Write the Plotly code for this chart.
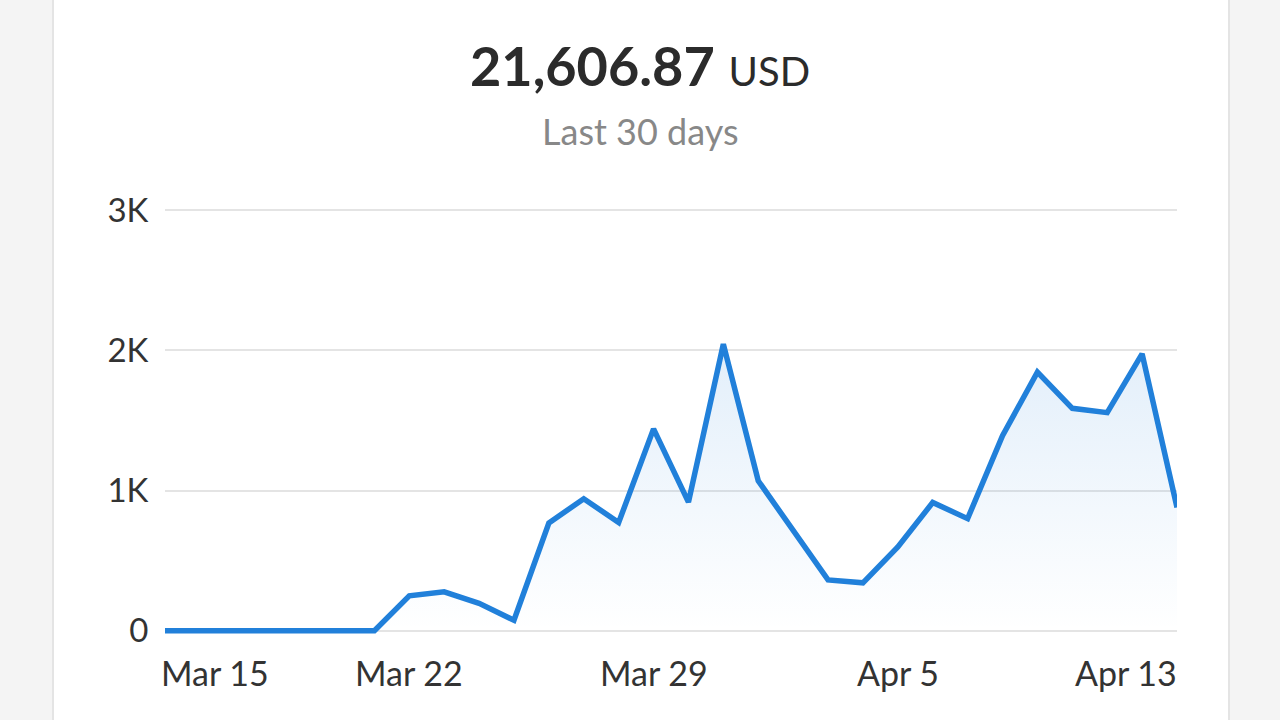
import plotly.graph_objects as go
import pandas as pd

# ---- data ----
dates = pd.date_range("2024-03-15", periods=30, freq="D")
values = [0, 0, 0, 0, 0, 0, 0,
          249, 278, 196, 75, 769, 942, 772, 1440, 918, 2045,
          1070, 719, 363, 342, 598, 915, 800, 1392, 1845, 1587, 1556, 1975, 880]
total_text = "21,606.87"
currency = "USD"
period_text = "Last 30 days"
y_tickvals = [0, 1000, 2000, 3000]
y_ticktext = ["0", "1K", "2K", "3K"]
x_tick_dates = ["2024-03-15", "2024-03-22", "2024-03-29", "2024-04-05", "2024-04-13"]
x_tick_labels = ["Mar 15", "Mar 22", "Mar 29", "Apr 5", "Apr 13"]

FONT = "Lato"
LINE = "#2180da"

fig = go.Figure()
fig.add_trace(go.Scatter(
    x=dates, y=values, mode="lines",
    line=dict(color=LINE, width=5.5, shape="linear"),
    fill="tozeroy",
    fillgradient=dict(type="vertical",
                      colorscale=[[0, "rgba(33,128,218,0.0)"], [1, "rgba(33,128,218,0.13)"]]),
    hoverinfo="skip", showlegend=False,
))

L, R = 165, 1177
W = 1280
pw = R - L
T, B = 206, 85

fig.update_layout(
    width=1280, height=720,
    margin=dict(l=L, r=W - R, t=T, b=B),
    paper_bgcolor="#f4f4f4",
    plot_bgcolor="rgba(0,0,0,0)",
    font=dict(family=FONT, color="#333333"),
    xaxis=dict(range=[dates[0], dates[-1]], showgrid=False, zeroline=False,
               showticklabels=False, showline=False, fixedrange=True),
    yaxis=dict(range=[-30, 3030], tickvals=y_tickvals, ticktext=y_ticktext,
               showgrid=True, gridcolor="#e4e4e4", gridwidth=2, zeroline=False,
               showline=False, ticks="outside", ticklen=9,
               tickcolor="rgba(0,0,0,0)",
               tickfont=dict(family=FONT, size=33, color="#333333")),
    shapes=[dict(type="rect", xref="paper", yref="paper", layer="below",
                 x0=(53 - L) / pw, x1=(1229 - L) / pw, y0=-1, y1=2,
                 fillcolor="white", line=dict(color="#e4e4e4", width=2))],
)

annotations = []
for d, lab in zip(x_tick_dates, x_tick_labels):
    if lab == x_tick_labels[0]:
        anchor, shift = "left", -6
    elif lab == x_tick_labels[-1]:
        anchor, shift = "right", 2
    else:
        anchor, shift = "center", 0
    annotations.append(dict(x=d, y=0, xref="x", yref="paper", text=lab,
                            showarrow=False, xanchor=anchor, yanchor="top",
                            xshift=shift, yshift=-15,
                            font=dict(family=FONT, size=34, color="#333333")))
fig.update_layout(annotations=annotations)

ph = 720 - T - B
def py(pix):
    return (720 - B - pix) / ph

fig.add_annotation(
    x=(640 - L) / pw, y=py(66), xref="paper", yref="paper", showarrow=False,
    xanchor="center", yanchor="middle",
    text=f"<b>{total_text}</b> <span style='font-size:40px;font-weight:400'>{currency}</span>",
    font=dict(family=FONT, size=54, color="#2b2b2b"),
)
fig.add_annotation(x=(640 - L) / pw, y=py(131), xref="paper", yref="paper", showarrow=False,
                   text=period_text, xanchor="center", yanchor="middle",
                   font=dict(family=FONT, size=36, color="#888888"))

fig.write_html("out.html", config={"displayModeBar": False},
               post_script="document.body.style.margin='0';document.body.style.background='#f4f4f4';")
